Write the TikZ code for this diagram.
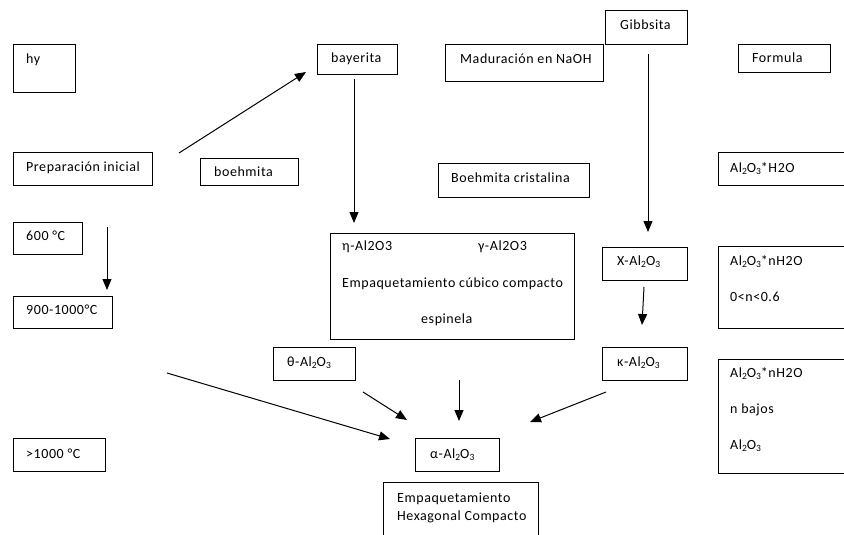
\documentclass[tikz,border=0pt]{standalone}
\usepackage{fontspec}
\setmainfont{Carlito}[LetterSpace=4]
\usetikzlibrary{arrows.meta}
\newcommand{\sbs}[1]{\raisebox{-0.35ex}{\fontsize{9.5}{10}\selectfont #1}}
\newcommand{\alo}{Al\sbs{2}O\sbs{3}}
\begin{document}
\begin{tikzpicture}[x=1pt,y=-1pt,
  boxr/.style={draw=black,line width=1pt},
  lbl/.style={anchor=mid west,inner sep=0pt,font=\fontsize{14}{16}\selectfont},
  arr/.style={draw=black,line width=1pt,-{Triangle[length=11pt,width=9pt]}}]
\useasboundingbox (0,0) rectangle (844,535);
\clip (0,0) rectangle (844,535);
\fill[white] (0,0) rectangle (844,535);
% boxes
\newcommand{\bx}[5]{\node[boxr,inner sep=0pt,minimum width=#4-#2,minimum height=#5-#3,anchor=north west] (#1) at (#2,#3) {};}
\bx{hy}{13}{44}{75}{92}
\bx{bay}{317}{44}{397}{74}
\bx{gib}{605}{10}{687}{44}
\bx{mad}{445}{44}{603}{81}
\bx{form}{738}{44}{830}{72}
\bx{prep}{13}{152}{152}{185}
\bx{boe}{200}{158}{298}{185}
\bx{boecr}{438}{163}{589}{197}
\bx{fa}{718}{152}{860}{185}
\bx{tsix}{13}{222}{82}{254}
\bx{tnine}{13}{296}{112}{328}
\bx{big}{330}{233}{574}{339}
\bx{chi}{602}{247}{687}{280}
\bx{fb}{718}{246}{860}{328}
\bx{theta}{273}{347}{355}{380}
\bx{kappa}{602}{347}{687}{380}
\bx{fc}{718}{359}{860}{473}
\bx{tthou}{13}{438}{105}{471}
\bx{alpha}{415}{438}{499}{471}
\bx{hex}{383}{482}{538}{560}
% labels
\node[lbl] (Lhy) at (26,61) {hy};
\node[lbl] (Lbay) at (331,60) {bayerita};
\node[lbl] (Lgib) at (620,27) {Gibbsita};
\node[lbl] (Lmad) at (460,61) {Maduración en NaOH};
\node[lbl] (Lform) at (752,60) {Formula};
\node[lbl] (Lprep) at (26,169) {Preparación inicial};
\node[lbl] (Lboe) at (214,174) {boehmita};
\node[lbl] (Lboecr) at (451,180) {Boehmita cristalina};
\node[lbl] (Lfa) at (730,170) {\alo*H2O};
\node[lbl] (Lsix) at (26,238) {600 °C};
\node[lbl] (Lnine) at (26,312) {900-1000°C};
\node[lbl] (Leta) at (342,248) {η-Al2O3};
\node[lbl] (Lgam) at (478,248) {γ-Al2O3};
\node[lbl] (Lcub) at (342,285) {Empaquetamiento cúbico compacto};
\node[lbl] (Lesp) at (421,321) {espinela};
\node[lbl] (Lchi) at (617,263) {X-\alo};
\node[lbl] (Lfb1) at (730,263) {\alo*nH2O};
\node[lbl] (Lfb2) at (730,299) {0<n<0.6};
\node[lbl] (Ltheta) at (287,364) {θ-\alo};
\node[lbl] (Lkappa) at (617,364) {κ-\alo};
\node[lbl] (Lfc1) at (730,375) {\alo*nH2O};
\node[lbl] (Lfc2) at (730,411) {n bajos};
\node[lbl] (Lfc3) at (730,447) {\alo};
\node[lbl] (Lthou) at (26,456) {>1000 °C};
\node[lbl] (Lalpha) at (430,456) {α-\alo};
\node[lbl] (Lhex1) at (397,500) {Empaquetamiento};
\node[lbl] (Lhex2) at (397,518) {Hexagonal Compacto};
% connector endpoints
\coordinate (a1) at (179,153); \coordinate (a1e) at (306,72);
\coordinate (a2) at (354,79);  \coordinate (a2e) at (354,223);
\coordinate (a3) at (648,54);  \coordinate (a3e) at (648,232);
\coordinate (a4) at (107,227); \coordinate (a4e) at (107,290);
\coordinate (a5) at (644,287); \coordinate (a5e) at (642,325);
\coordinate (a6) at (167,373); \coordinate (a6e) at (390,439);
\coordinate (a7) at (363,392); \coordinate (a7e) at (407,420);
\coordinate (a8) at (459,380); \coordinate (a8e) at (459,421);
\coordinate (a9) at (606,392); \coordinate (a9e) at (530,422);
\draw[arr] (a1) -- (a1e);
\draw[arr] (a2) -- (a2e);
\draw[arr] (a3) -- (a3e);
\draw[arr] (a4) -- (a4e);
\draw[arr] (a5) -- (a5e);
\draw[arr] (a6) -- (a6e);
\draw[arr] (a7) -- (a7e);
\draw[arr] (a8) -- (a8e);
\draw[arr] (a9) -- (a9e);
\end{tikzpicture}
\end{document}
